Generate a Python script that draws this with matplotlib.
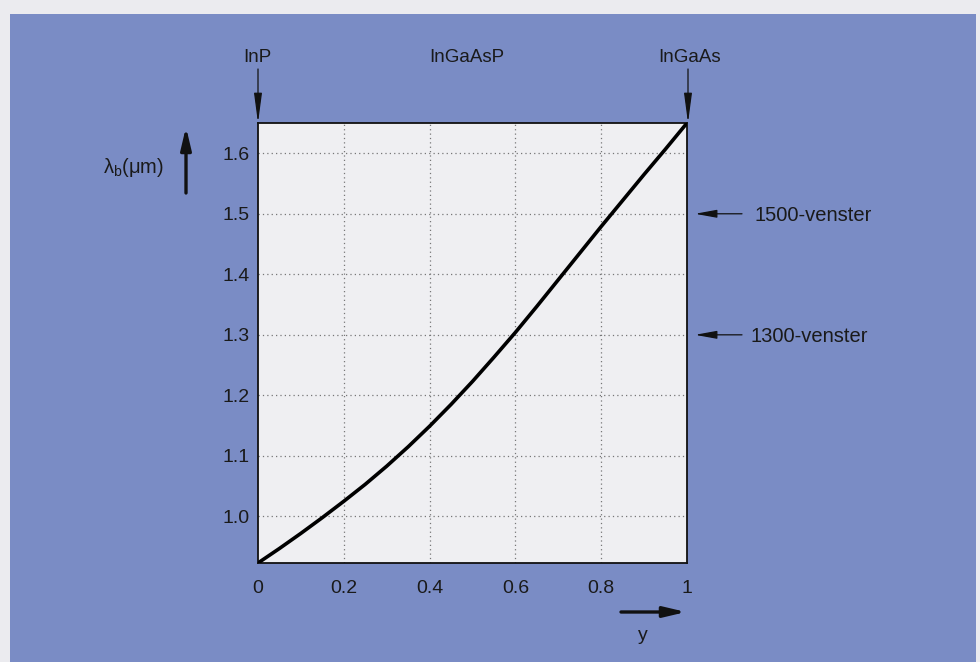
import matplotlib
matplotlib.use("Agg")
import matplotlib.pyplot as plt
from matplotlib.patches import FancyArrowPatch

# Data
y_frac = [0.0, 0.05, 0.1, 0.15, 0.2, 0.25, 0.3, 0.35, 0.4, 0.45, 0.5,
          0.55, 0.6, 0.65, 0.7, 0.75, 0.8, 0.85, 0.9, 0.95, 1.0]
lambda_b = [0.923, 0.947, 0.972, 0.998, 1.025, 1.053, 1.083, 1.115, 1.149, 1.185, 1.223,
            1.263, 1.304, 1.347, 1.391, 1.435, 1.479, 1.522, 1.565, 1.607, 1.650]
x_ticks = [0, 0.2, 0.4, 0.6, 0.8, 1]
x_ticklabels = ["0", "0.2", "0.4", "0.6", "0.8", "1"]
y_ticks = [1.0, 1.1, 1.2, 1.3, 1.4, 1.5, 1.6]
y_ticklabels = ["1.0", "1.1", "1.2", "1.3", "1.4", "1.5", "1.6"]
materials = ["InP", "InGaAsP", "InGaAs"]
windows = [(1.5, "1500-venster"), (1.3, "1300-venster")]

plt.rcParams['font.family'] = ['Liberation Sans', 'DejaVu Sans']

W, H = 980, 662
fig = plt.figure(figsize=(W / 100, H / 100), dpi=100)
fig.patch.set_facecolor("#ebebef")
blue = "#7a8cc5"
bg = fig.add_axes([10 / W, 0, (976 - 10) / W, (H - 14) / H])
bg.set_facecolor(blue)
bg.set_xticks([]); bg.set_yticks([])
for s in bg.spines.values():
    s.set_visible(False)
bg.set_zorder(0)

left, right, top, bottom = 258, 687, 123, 563
ax = fig.add_axes([left / W, (H - bottom) / H, (right - left) / W, (bottom - top) / H])
ax.set_zorder(1)
ax.set_facecolor("#efeff2")
ax.set_xlim(0, 1)
ax.set_ylim(0.923, 1.65)
ax.plot(y_frac, lambda_b, color="black", lw=2.6, solid_capstyle="round",
        solid_joinstyle="round", zorder=3)
ax.set_xticks(x_ticks)
ax.set_xticklabels(x_ticklabels)
ax.set_yticks(y_ticks)
ax.set_yticklabels(y_ticklabels)
ax.tick_params(length=0, labelsize=14, colors="#1a1a1a")
ax.tick_params(axis='y', pad=6)
ax.tick_params(axis='x', pad=12)
for xv in x_ticks[1:-1]:
    ax.axvline(xv, color="#777777", lw=0.9, ls=(0, (1, 2.5)), zorder=1)
for yv in y_ticks:
    ax.axhline(yv, color="#777777", lw=0.9, ls=(0, (1, 2.5)), zorder=1)
for s in ax.spines.values():
    s.set_linewidth(1.3)
    s.set_color("#111111")

def fx(px):
    return px / W

def fy(py):
    return 1 - py / H

thin_v = dict(arrowstyle="-|>,head_length=1.5,head_width=0.2", color="#111111", lw=0.9,
              shrinkA=0, shrinkB=0, mutation_scale=12)
thin_h = dict(arrowstyle="-|>,head_length=1.1,head_width=0.2", color="#111111", lw=0.9,
              shrinkA=0, shrinkB=0, mutation_scale=12)
thick = dict(arrowstyle="-|>,head_length=1.1,head_width=0.26", color="#111111", lw=2.4,
             shrinkA=0, shrinkB=0, mutation_scale=12)

def arrow(p0, p1, style):
    fig.add_artist(FancyArrowPatch((fx(p0[0]), fy(p0[1])), (fx(p1[0]), fy(p1[1])),
                                   transform=fig.transFigure, **style))

# material labels and downward arrows
fig.text(fx(257), fy(58), materials[0], ha="center", va="center", fontsize=13.5, color="#1a1a1a")
fig.text(fx(467), fy(58), materials[1], ha="center", va="center", fontsize=13.5, color="#1a1a1a")
fig.text(fx(690), fy(58), materials[2], ha="center", va="center", fontsize=13.5, color="#1a1a1a")
arrow((258, 69), (258, 123), thin_v)
arrow((688, 69), (688, 123), thin_v)

# window annotations
for (val, lab), tx in zip(windows, (754, 750)):
    py = H - ax.transData.transform((1, val))[1]
    arrow((742, py), (695, py), thin_h)
    fig.text(fx(tx), fy(py + 2), lab, ha="left", va="center", fontsize=14.5, color="#1a1a1a")

# y-axis label with thick up arrow
fig.text(fx(103), fy(167), r"$\mathregular{λ_{b}}$(μm)", ha="left", va="center",
         fontsize=14.5, color="#1a1a1a")
arrow((186, 193), (186, 127), thick)

# x-axis label with thick right arrow
arrow((621, 612), (686, 612), thick)
fig.text(fx(643), fy(635), "y", ha="center", va="center", fontsize=14, color="#1a1a1a")

fig.savefig("out.png", dpi=100, facecolor=fig.get_facecolor())
